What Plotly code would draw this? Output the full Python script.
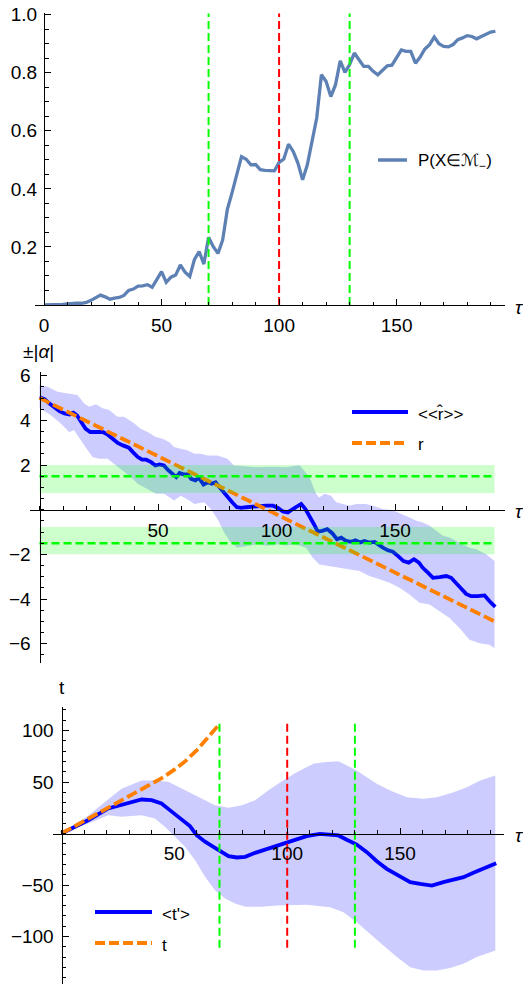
import plotly.graph_objects as go

W, H = 523, 984

# ---------------- data ----------------
# Panel 1: P(X in M_) vs tau
p1_x = list(range(0, 194, 2))
p1_y = [0.000, 0.000, 0.000, 0.000, 0.002, 0.004, 0.006, 0.006, 0.006, 0.009,
        0.016, 0.026, 0.034, 0.028, 0.020, 0.024, 0.026, 0.033, 0.050, 0.055,
        0.065, 0.066, 0.070, 0.061, 0.090, 0.115, 0.078, 0.096, 0.103, 0.138,
        0.113, 0.098, 0.157, 0.184, 0.141, 0.233, 0.201, 0.178, 0.224, 0.330,
        0.387, 0.445, 0.511, 0.502, 0.483, 0.484, 0.466, 0.464, 0.463, 0.462,
        0.491, 0.503, 0.554, 0.529, 0.489, 0.431, 0.483, 0.569, 0.644, 0.793,
        0.770, 0.718, 0.759, 0.841, 0.801, 0.828, 0.868, 0.845, 0.822, 0.822,
        0.805, 0.793, 0.810, 0.824, 0.826, 0.854, 0.879, 0.874, 0.874, 0.833,
        0.854, 0.882, 0.897, 0.923, 0.900, 0.891, 0.889, 0.897, 0.914, 0.920,
        0.928, 0.925, 0.917, 0.925, 0.933, 0.940, 0.943]

vline_green = [70, 130]
vline_red = [100]
p1_vline_y = [0, 1.005]
p3_vline_y = [-111, 107]

# Panel 2: <<r^>> mean, band, and r
p2_mean_x = [0, 2.1, 4.2, 6.3, 8.4, 10.5, 12.7, 14.3, 15.8, 17.6, 19.4, 21.4, 23.9, 26.7,
             28.8, 30.9, 33, 35.2, 37.7, 39.4, 41.5, 43.3, 45, 47.1, 48.9, 50.6, 52.5,
             54.1, 56, 57.7, 59.1, 60.8, 62.6, 64, 65.8, 67.2, 69.2, 71, 72.7, 74.3,
             75.9, 77.6, 79.5, 81.3, 83.3, 85.1, 87.2, 90, 92.8, 95.6, 98.5, 100.6,
             102.7, 104.8, 106.9, 109, 110.4, 112.2, 113.9, 115.8, 117.4, 119.3, 121.4,
             123.5, 125.5, 127.3, 129.4, 131.5, 133.3, 135.3, 137.1, 139.2, 141.4,
             143.2, 144.9, 147, 149.1, 151.2, 153.6, 155.8, 158, 160.1, 161.7, 163.9,
             166, 168.8, 171.6, 173.7, 175.8, 177.9, 180, 182.1, 184.9, 187.8, 189.9, 192.3]
p2_mean_y = [5.03, 4.95, 4.76, 4.58, 4.41, 4.31, 4.26, 4.34, 4.23, 3.93, 3.63, 3.48, 3.48,
             3.48, 3.36, 3.15, 2.99, 2.88, 2.78, 2.58, 2.36, 2.24, 2.24, 2.13, 1.98, 2.03,
             1.98, 1.79, 1.61, 1.46, 1.64, 1.58, 1.58, 1.38, 1.31, 1.43, 1.13, 1.23, 1.16,
             1.23, 1.01, 0.78, 0.56, 0.33, 0.11, 0.08, 0.11, 0.14, 0.18, 0.18, 0.18, 0.08,
             -0.08, -0.12, 0.03, 0.18, 0.26, 0.03, -0.27, -0.65, -0.98, -0.95, -0.87,
             -1.05, -1.32, -1.25, -1.40, -1.44, -1.37, -1.47, -1.40, -1.47, -1.44, -1.58,
             -1.70, -1.82, -1.88, -2.07, -2.30, -2.37, -2.22, -2.37, -2.60, -2.82, -3.05,
             -3.02, -2.97, -3.05, -3.27, -3.53, -3.77, -3.87, -3.87, -3.84, -4.10, -4.35]

p2_up_x = [0, 3.4, 7.6, 11.8, 16, 18.9, 21, 23.8, 26.6, 29.4, 32.9, 35.7, 40, 42.7, 45.6,
           49.1, 51.9, 54.7, 56.8, 59.6, 62.4, 65.3, 68.1, 70.9, 75.1, 79.3, 82.1, 86.4,
           92, 98, 104, 109.7, 113.9, 116.7, 118, 120.3, 123, 125.2, 128, 130.8, 133.6,
           137.8, 140.6, 144.9, 149.1, 153.3, 156.1, 159, 161.7, 164.6, 167.4, 170.2,
           173, 175.8, 178.6, 181.4, 184.3, 188.5, 192]
p2_up_y = [5.59, 5.51, 5.28, 5.21, 5.14, 4.76, 4.61, 4.72, 4.54, 4.46, 4.16, 4.16, 3.86,
           3.63, 3.48, 3.26, 3.18, 3.03, 2.81, 2.73, 2.66, 2.51, 2.51, 2.43, 2.43, 2.28,
           1.98, 1.95, 1.90, 1.92, 1.90, 1.99, 1.46, 0.71, 0.55, 0.71, 0.63, 0.33, 0.26,
           0.18, 0.26, 0.26, 0.18, 0.03, -0.02, -0.20, -0.35, -0.50, -0.57, -0.72, -0.95,
           -1.17, -1.25, -1.40, -1.55, -1.70, -1.77, -2.00, -2.30]
p2_lo_x = [0, 4.8, 9, 12.5, 14.6, 17.4, 20.3, 22.4, 25.2, 28.7, 31.5, 35, 38.5, 41.4, 45.6,
           49.1, 52.6, 56.8, 59.6, 63.2, 65.3, 69.5, 72.3, 75.1, 77.9, 80.7, 83.5, 87.8,
           92, 96.2, 100.4, 104, 108, 112.5, 115.3, 118.1, 122.4, 126.6, 130.8, 135,
           139.2, 143.5, 147.7, 151.9, 156.1, 160.3, 164.6, 168.8, 173, 177.2, 181.4,
           185.7, 189.9, 192]
p2_lo_y = [4.54, 4.23, 3.86, 3.48, 3.56, 3.11, 2.66, 2.36, 2.28, 2.28, 2.06, 1.76, 1.46,
           1.16, 0.93, 0.71, 0.71, 0.41, 0.63, 0.41, 0.26, 0.33, 0.03, -0.42, -1.02, -1.47,
           -1.70, -1.62, -1.55, -1.62, -1.55, -1.60, -1.55, -1.70, -2.15, -2.45, -2.52,
           -2.60, -2.67, -2.75, -2.97, -3.12, -3.27, -3.50, -3.80, -4.17, -4.25, -4.55,
           -4.85, -5.30, -5.82, -5.98, -6.05, -6.20]

r_x = [0, 192]
r_y = [5, -5]

band_x = [0, 192]
alpha_levels = [1.5, -1.5]
band_ranges = [(0.75, 2.0), (-2.0, -0.78)]

# Panel 3: <t'> mean, band, and t
p3_mean_x = [0, 11.8, 20.7, 26.6, 31, 35.5, 39.9, 44.3, 48, 52.5, 56.9, 59.9, 63.6, 67.3,
             71, 74, 77.7, 81.4, 85.8, 90.3, 94.7, 98.5, 102.7, 108.6, 114.5, 122.7, 126.4,
             130.8, 135.3, 139.7, 144.1, 149.3, 154.5, 158.9, 164.1, 169.2, 173.7, 178.1,
             182.5, 187.7, 192.6]
p3_mean_y = [0, 12.9, 24.3, 27.5, 30.7, 33, 32.4, 29.1, 22.7, 14.6, 7.2, -1.6, -8, -12.9,
             -17.8, -22, -23.3, -22.7, -18.8, -15.5, -12.3, -10.2, -6.8, -2.6, -0.3, -1.9,
             -6.1, -10.7, -18.1, -26.9, -34.3, -40.8, -47.2, -48.9, -50.5, -47.2, -45,
             -42.4, -38.2, -33.3, -28.8]
p3_up_x = [0, 11.8, 19.2, 26.6, 35.5, 41.4, 47.3, 53.3, 59.2, 63.6, 68, 74, 79.9, 85.8,
           91.7, 97.5, 104.2, 111.6, 116, 122.7, 126.4, 130.8, 135.3, 139.7, 145.6, 153,
           160.4, 166.3, 173.7, 179.6, 185.5, 192.2]
p3_up_y = [0, 17.2, 30.7, 43.4, 51.5, 51.5, 50.2, 43.7, 37.2, 32.4, 27.5, 24.9, 27.5, 32.4,
           42.1, 50.5, 59.5, 67.7, 69.2, 70.2, 66, 61.2, 54.7, 48.3, 41.7, 35.2, 33.7, 35.2,
           40.1, 45, 51.5, 56.3]
p3_lo_x = [0, 11.8, 20.7, 26.6, 35.5, 41.4, 45.8, 50.3, 54.7, 59.2, 63.6, 68, 72.5, 76.9,
           81.4, 88.8, 95.5, 108.6, 119, 124.9, 130.8, 136.7, 142.6, 148.6, 154.5, 160.4,
           166.3, 172.2, 178.1, 184, 192.2]
p3_lo_y = [0, 9.7, 17.8, 16.2, 17.8, 14.6, 6.5, -3.2, -12.9, -25.9, -42.1, -55, -63.1, -68,
           -71.2, -71.2, -69.8, -69.2, -71.6, -76.4, -86.1, -97.4, -108.7, -120, -129.8,
           -133, -133, -130.7, -126.5, -120, -113.6]
t_x = [0, 10, 20, 30, 40, 45, 50, 55, 60, 65, 69.5]
t_y = [0, 12, 23.5, 35.5, 48, 54.5, 62, 70.5, 81, 93, 105]

p1_xticks = [0, 50, 100, 150]
p1_yticks = [0.2, 0.4, 0.6, 0.8, 1.0]
p1_yticktext = ["0.2", "0.4", "0.6", "0.8", "1.0"]
p2_xticks = [50, 100, 150]
p2_yticks = [-6, -4, -2, 2, 4, 6]
p2_yticktext = ["\u22126", "\u22124", "\u22122", "2", "4", "6"]
p3_xticks = [50, 100, 150]
p3_yticks = [-100, -50, 50, 100]
p3_yticktext = ["\u2212100", "\u221250", "50", "100"]

# ---------------- styles ----------------
C_P = "rgb(94,129,181)"
C_BLUE = "rgb(0,0,255)"
C_ORANGE = "rgb(255,128,0)"
C_GREEN = "rgb(0,255,0)"
C_RED = "rgb(255,0,0)"
BAND_BLUE = "rgba(0,0,255,0.2)"
BAND_GREEN = "rgba(0,255,0,0.2)"
FONT = "Liberation Sans, Arial, sans-serif"


def px_x(p):
    return p / W


def px_y(p):
    return 1 - p / H


fig = go.Figure()

# ---- panel 1 ----
fig.add_trace(go.Scatter(x=p1_x, y=p1_y, mode="lines", line=dict(color=C_P, width=3.3),
                         xaxis="x", yaxis="y", showlegend=False, hoverinfo="skip"))
for xv in vline_green:
    fig.add_trace(go.Scatter(x=[xv, xv], y=p1_vline_y, mode="lines",
                             line=dict(color=C_GREEN, width=2, dash="8px,4px"),
                             xaxis="x", yaxis="y", showlegend=False))
for xv in vline_red:
    fig.add_trace(go.Scatter(x=[xv, xv], y=p1_vline_y, mode="lines",
                             line=dict(color=C_RED, width=2, dash="8px,4px"),
                             xaxis="x", yaxis="y", showlegend=False))

# ---- panel 2 ----
fig.add_trace(go.Scatter(x=p2_up_x + p2_lo_x[::-1], y=p2_up_y + p2_lo_y[::-1], mode="lines",
                         fill="toself", fillcolor=BAND_BLUE, line=dict(width=0),
                         xaxis="x2", yaxis="y2", showlegend=False))
fig.add_trace(go.Scatter(x=p2_mean_x, y=p2_mean_y, mode="lines", line=dict(color=C_BLUE, width=3.8),
                         xaxis="x2", yaxis="y2", showlegend=False))
fig.add_trace(go.Scatter(x=r_x, y=r_y, mode="lines",
                         line=dict(color=C_ORANGE, width=3.8, dash="11px,4px"),
                         xaxis="x2", yaxis="y2", showlegend=False))
for lo, hi in band_ranges:
    fig.add_trace(go.Scatter(x=[band_x[0], band_x[1], band_x[1], band_x[0]], y=[lo, lo, hi, hi],
                             mode="lines", fill="toself", fillcolor=BAND_GREEN, line=dict(width=0),
                             xaxis="x2", yaxis="y2", showlegend=False))
for lv in alpha_levels:
    fig.add_trace(go.Scatter(x=band_x, y=[lv, lv], mode="lines",
                             line=dict(color=C_GREEN, width=2.5, dash="8px,4px"),
                             xaxis="x2", yaxis="y2", showlegend=False))

# ---- panel 3 ----
fig.add_trace(go.Scatter(x=p3_up_x + p3_lo_x[::-1], y=p3_up_y + p3_lo_y[::-1], mode="lines",
                         fill="toself", fillcolor=BAND_BLUE, line=dict(width=0),
                         xaxis="x3", yaxis="y3", showlegend=False))
fig.add_trace(go.Scatter(x=p3_mean_x, y=p3_mean_y, mode="lines", line=dict(color=C_BLUE, width=3.8),
                         xaxis="x3", yaxis="y3", showlegend=False))
fig.add_trace(go.Scatter(x=t_x, y=t_y, mode="lines",
                         line=dict(color=C_ORANGE, width=3.8, dash="11px,4px"),
                         xaxis="x3", yaxis="y3", showlegend=False))
for xv in vline_green:
    fig.add_trace(go.Scatter(x=[xv, xv], y=p3_vline_y, mode="lines",
                             line=dict(color=C_GREEN, width=2, dash="8px,4px"),
                             xaxis="x3", yaxis="y3", showlegend=False))
for xv in vline_red:
    fig.add_trace(go.Scatter(x=[xv, xv], y=p3_vline_y, mode="lines",
                             line=dict(color=C_RED, width=2, dash="8px,4px"),
                             xaxis="x3", yaxis="y3", showlegend=False))

# ---------------- axes ----------------
tickfont = dict(family=FONT, size=19, color="black")


def xax(domain_px, rng, tickvals, xminor=10, **kw):
    return dict(domain=[px_x(domain_px[0]), px_x(domain_px[1])], range=rng, showgrid=False,
                zeroline=False, showline=True, linecolor="black", linewidth=1,
                ticks="inside", ticklen=6, tickwidth=1, tickcolor="black",
                tickmode="array", tickvals=tickvals, ticktext=[str(v) for v in tickvals],
                tickfont=tickfont, automargin=False,
                minor=dict(ticks="inside", ticklen=3.5, tickwidth=1, tickcolor="black",
                           dtick=xminor, tick0=0, showgrid=False),
                **kw)


def yax(domain_px, rng, tickvals, ticktext, yminor, pos_px, **kw):
    return dict(domain=[px_y(domain_px[1]), px_y(domain_px[0])], range=rng, showgrid=False,
                zeroline=False, showline=True, linecolor="black", linewidth=1,
                ticks="inside", ticklen=6, tickwidth=1, tickcolor="black",
                tickmode="array", tickvals=tickvals, ticktext=ticktext, tickfont=tickfont,
                automargin=False,
                minor=dict(ticks="inside", ticklen=3.5, tickwidth=1, tickcolor="black",
                           dtick=yminor, tick0=0, showgrid=False),
                anchor="free", position=px_x(pos_px), **kw)


# pixel geometry of each panel
P1_X0, P1_L, P1_R, P1_S = 44.0, 35.0, 505.0, 2.351
P1_Y0, P1_T, P1_YS = 305.0, 13.3, 290.3
P2_X0, P2_L, P2_R, P2_S = 39.5, 30.0, 505.0, 2.37
P2_Y0, P2_T, P2_B, P2_YS = 509.7, 371.7, 663.3, 22.33
P3_X0, P3_L, P3_R, P3_S = 61.5, 53.3, 504.0, 2.257
P3_Y0, P3_T, P3_B, P3_YS = 833.5, 707.0, 984.0, 1.03

layout_axes = dict(
    xaxis=xax((P1_L, P1_R), [(P1_L - P1_X0) / P1_S, (P1_R - P1_X0) / P1_S], p1_xticks,
              anchor="y", ticklabelstandoff=3),
    yaxis=yax((P1_T, P1_Y0), [0, (P1_Y0 - P1_T) / P1_YS], p1_yticks, p1_yticktext, 0.05, P1_X0,
              ticklabelstandoff=3),
    xaxis2=xax((P2_L, P2_R), [(P2_L - P2_X0) / P2_S, (P2_R - P2_X0) / P2_S], p2_xticks,
               anchor="free", position=px_y(P2_Y0), ticklabelstandoff=3),
    yaxis2=yax((P2_T, P2_B), [-(P2_B - P2_Y0) / P2_YS, (P2_Y0 - P2_T) / P2_YS], p2_yticks,
               p2_yticktext, 0.5, P2_X0, ticklabelstandoff=5),
    xaxis3=xax((P3_L, P3_R), [(P3_L - P3_X0) / P3_S, (P3_R - P3_X0) / P3_S], p3_xticks,
               anchor="free", position=px_y(P3_Y0), ticklabelstandoff=3),
    yaxis3=yax((P3_T, P3_B), [-(P3_B - P3_Y0) / P3_YS, (P3_Y0 - P3_T) / P3_YS], p3_yticks,
               p3_yticktext, 10, P3_X0, ticklabelstandoff=4),
)

# ---------------- legends & labels (paper coords) ----------------
shapes = []
annotations = []


def legend_item(x0, x1, y, color, width, dash, text, tx):
    shapes.append(dict(type="line", xref="paper", yref="paper", x0=px_x(x0), x1=px_x(x1),
                       y0=px_y(y), y1=px_y(y), line=dict(color=color, width=width, dash=dash)))
    annotations.append(dict(xref="paper", yref="paper", x=px_x(tx), y=px_y(y + 2), text=text,
                            showarrow=False, xanchor="left", yanchor="middle",
                            font=dict(family=FONT, size=17, color="black")))


legend_item(378, 407, 160, C_P, 3.5, "solid", "P(X\u2208\u2133<sub>\u2212</sub>)", 416)
legend_item(352, 408, 412, C_BLUE, 4, "solid", "&lt;&lt;r\u0302&gt;&gt;", 416)
legend_item(352, 408, 443, C_ORANGE, 4, "10px,4px", "r", 416)
legend_item(95, 152, 912, C_BLUE, 4, "solid", "&lt;t'&gt;", 160)
legend_item(95, 152, 943, C_ORANGE, 4, "10px,4px", "t", 160)

lab_font = dict(family=FONT, size=19, color="black")
annotations.append(dict(xref="paper", yref="paper", x=px_x(21), y=px_y(352),
                        text="\u00b1|<i>\u03b1</i>|", showarrow=False, xanchor="left",
                        yanchor="middle", font=lab_font))
annotations.append(dict(xref="paper", yref="paper", x=px_x(62), y=px_y(687), text="t",
                        showarrow=False, xanchor="center", yanchor="middle", font=lab_font))
for yy in (P1_Y0, P2_Y0, P3_Y0):
    annotations.append(dict(xref="paper", yref="paper", x=px_x(513), y=px_y(yy + 2),
                            text="<i>\u03c4</i>", showarrow=False, xanchor="left",
                            yanchor="middle", font=lab_font))

fig.update_layout(
    width=W, height=H, margin=dict(l=0, r=0, t=0, b=0, autoexpand=False),
    paper_bgcolor="white", plot_bgcolor="rgba(0,0,0,0)",
    showlegend=False, shapes=shapes, annotations=annotations,
    **layout_axes,
)

fig.write_html("out.html")
